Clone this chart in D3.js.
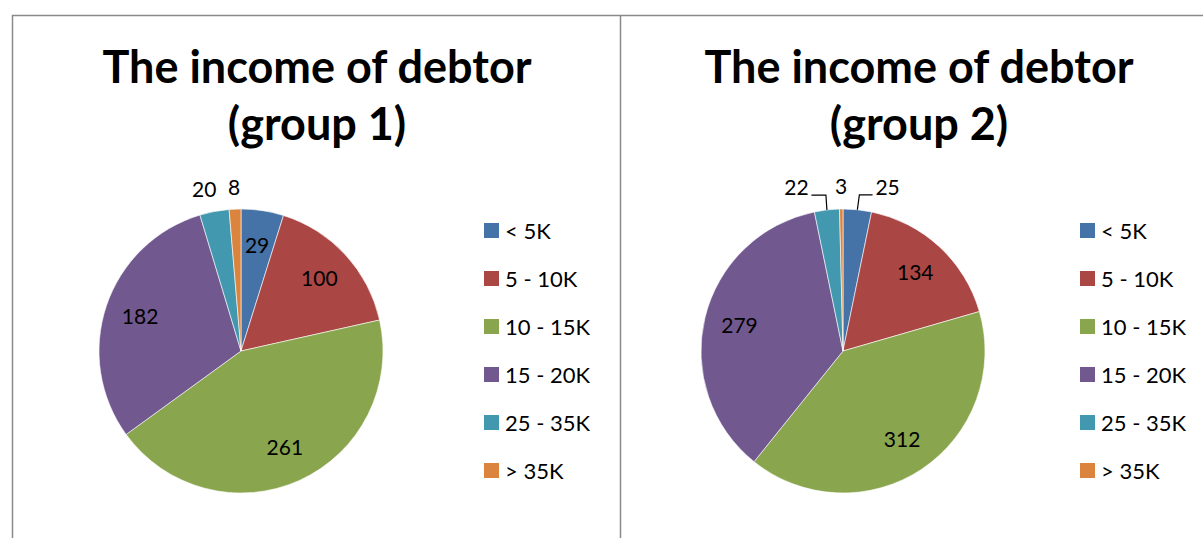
<!DOCTYPE html>
<html>
<head>
<meta charset="utf-8">
<script src="https://cdn.jsdelivr.net/npm/d3@7"></script>
<style>
  body { margin: 0; background: #fff; }
  text { font-family: Lato, "Open Sans", sans-serif; fill: #000; }
</style>
</head>
<body>
<svg id="chart" width="1203" height="538"></svg>
<script>
// income brackets shared by both groups
const categories = ["< 5K", "5 - 10K", "10 - 15K", "15 - 20K", "25 - 35K", "> 35K"];
const group1 = [29, 100, 261, 182, 20, 8];
const group2 = [25, 134, 312, 279, 22, 3];
const titles = [["The income of debtor", "(group 1)"], ["The income of debtor", "(group 2)"]];
const colors = ["#4572A7", "#AA4643", "#89A54E", "#71588F", "#4198AF", "#DB843D"];

const svg = d3.select("#chart");

// panel frames
svg.append("path")
    .attr("d", "M12.5,538 V15.5 H1203 M620.5,15.5 V538")
    .attr("fill", "none")
    .attr("stroke", "#8a8a8a")
    .attr("stroke-width", 1.5);

const color = d3.scaleOrdinal().domain(categories).range(colors);

// nudge = horizontal shift of an outside label, leader = draw elbow line
function drawPanel(values, title, ox, legendX, nudges, leaders) {
    const g = svg.append("g").attr("transform", "translate(" + ox + ",0)");
    const cx = 229, cy = 351, r = 142;

    // title
    const t = g.append("text")
        .attr("x", 305)
        .attr("text-anchor", "middle")
        .style("font-size", "45px")
        .style("font-weight", "bold");
    t.append("tspan").attr("x", 305).attr("y", 83).text(title[0]);
    t.append("tspan").attr("x", 305).attr("y", 140).text(title[1]);

    const data = categories.map((c, i) => ({ cat: c, value: values[i] }));
    const pie = d3.pie().sort(null).value(d => d.value);
    const arcs = pie(data);
    const total = d3.sum(values);

    const arc = d3.arc().innerRadius(0).outerRadius(r);
    const labelArc = d3.arc().innerRadius(r * 0.75).outerRadius(r * 0.75);

    const pg = g.append("g").attr("transform", "translate(" + cx + "," + cy + ")");
    pg.selectAll("path")
        .data(arcs)
        .enter().append("path")
        .attr("d", arc)
        .attr("fill", d => color(d.data.cat))
        .attr("stroke", "#fff")
        .attr("stroke-width", 0.6);

    arcs.forEach((d, i) => {
        const small = d.value / total < 0.045;
        const mid = (d.startAngle + d.endAngle) / 2;
        if (!small) {
            const p = labelArc.centroid(d);
            pg.append("text")
                .attr("x", p[0]).attr("y", p[1])
                .attr("text-anchor", "middle")
                .attr("dy", "0.35em")
                .style("font-size", "21px")
                .text(d.value);
            return;
        }
        const lr = r + 22;
        const nudge = nudges[i];
        const lx = Math.sin(mid) * lr + nudge, ly = -Math.cos(mid) * lr;
        pg.append("text")
            .attr("x", lx).attr("y", ly)
            .attr("text-anchor", "middle")
            .attr("dy", "0.35em")
            .style("font-size", "21px")
            .text(d.value);
        if (leaders[i]) {
            const ex = Math.sin(mid) * r, ey = -Math.cos(mid) * r;
            const side = nudge > 0 ? -1 : 1;
            pg.append("polyline")
                .attr("points", [[ex, ey], [ex + (nudge > 0 ? 2 : -1), ly + 7], [lx + side * 15, ly + 7]].map(q => q.join(",")).join(" "))
                .attr("fill", "none")
                .attr("stroke", "#000")
                .attr("stroke-width", 1.2);
        }
    });

    // legend
    const lg = g.append("g").attr("transform", "translate(" + legendX + ",223)");
    const row = lg.selectAll("g")
        .data(categories)
        .enter().append("g")
        .attr("transform", (d, i) => "translate(0," + i * 48 + ")");
    row.append("rect")
        .attr("width", 15).attr("height", 15)
        .attr("fill", d => color(d));
    row.append("text")
        .attr("x", 21).attr("y", 15.5)
        .style("font-size", "22px")
        .text(d => d);
}

drawPanel(group1, titles[0], 12, 472, [0, 0, 0, 0, -6, 0], [0, 0, 0, 0, 0, 0]);
drawPanel(group2, titles[1], 614, 466, [28, 0, 0, 0, -28, 0], [1, 0, 0, 0, 1, 0]);
</script>
</body>
</html>
